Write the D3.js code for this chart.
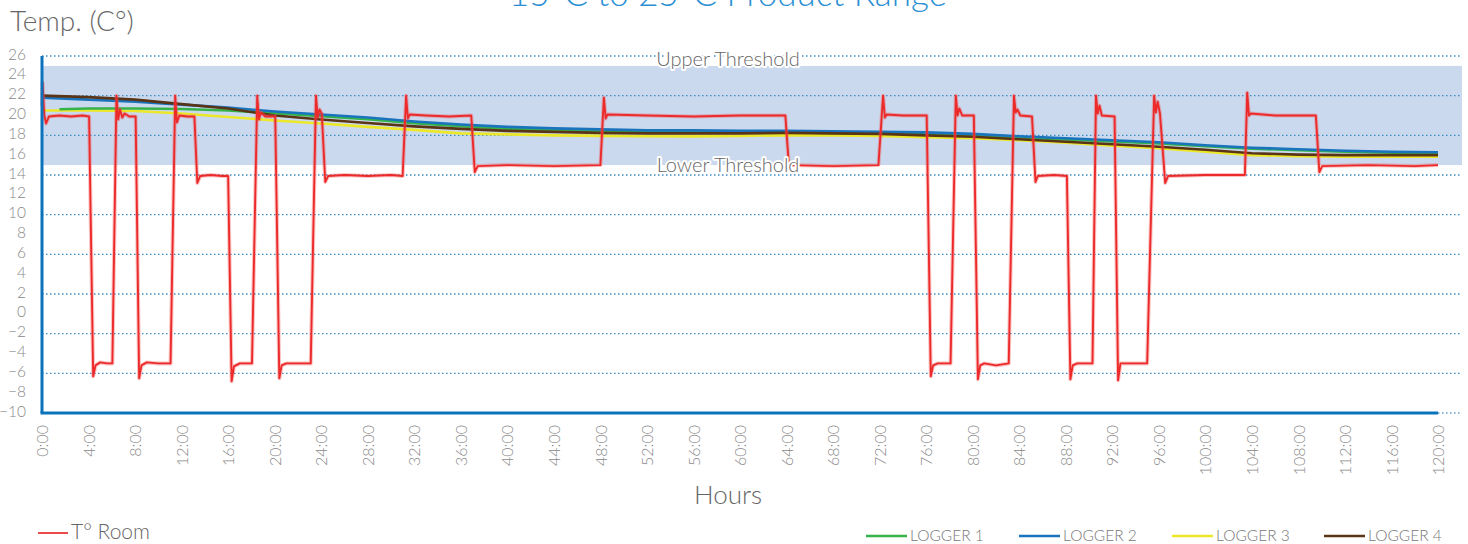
<!DOCTYPE html>
<html>
<head>
<meta charset="utf-8">
<script src="https://cdn.jsdelivr.net/npm/d3@7"></script>
<style>
  html, body { margin: 0; padding: 0; background: #fff; }
  svg { display: block; font-family: "Lato", "Open Sans", sans-serif; font-weight: 300; }
</style>
</head>
<body>
<svg id="chart" width="1468" height="544"></svg>
<script>
// ---------- DATA ----------
const chartTitle = "15°C to 25°C Product Range";
const yTitle = "Temp. (C°)";
const xTitle = "Hours";
const yTickValues = [-10, -8, -6, -4, -2, 0, 2, 4, 6, 8, 10, 12, 14, 16, 18, 20, 22, 24, 26];
const gridValues = [26, 22, 18, 14, 10, 6, 2, -2, -6];
const xTickHours = [0, 4, 8, 12, 16, 20, 24, 28, 32, 36, 40, 44, 48, 52, 56, 60, 64, 68, 72, 76, 80, 84, 88, 92, 96, 100, 104, 108, 112, 116, 120];
const upperThreshold = 25;
const lowerThreshold = 15;

// Logger readings every 4 hours
const loggerHours = [0, 4, 8, 12, 16, 20, 24, 28, 32, 36, 40, 44, 48, 52, 56, 60, 64, 68, 72, 76, 80, 84, 88, 92, 96, 100, 104, 108, 112, 116, 120];
const logger1 = [20.6, 20.7, 20.7, 20.65, 20.5, 20.22, 19.92, 19.62, 19.22, 18.92, 18.68, 18.53, 18.43, 18.35, 18.33, 18.3, 18.28, 18.25, 18.22, 18.15, 18.02, 17.78, 17.58, 17.38, 17.18, 16.9, 16.65, 16.5, 16.36, 16.26, 16.2];
const logger2 = [21.8, 21.6, 21.4, 21.1, 20.8, 20.4, 20.1, 19.8, 19.4, 19.1, 18.85, 18.7, 18.6, 18.5, 18.5, 18.45, 18.45, 18.4, 18.35, 18.3, 18.15, 17.9, 17.7, 17.5, 17.3, 17.0, 16.75, 16.6, 16.45, 16.35, 16.3];
const logger3 = [20.5, 20.5, 20.45, 20.2, 19.85, 19.5, 19.2, 18.85, 18.55, 18.2, 18.1, 18.0, 17.95, 17.9, 17.9, 17.95, 18.0, 18.0, 17.95, 17.8, 17.7, 17.5, 17.25, 16.95, 16.7, 16.35, 16.0, 15.9, 15.85, 15.85, 15.85];
const logger4 = [22.0, 21.85, 21.6, 21.15, 20.7, 20.0, 19.6, 19.25, 18.9, 18.65, 18.45, 18.35, 18.25, 18.2, 18.2, 18.2, 18.25, 18.2, 18.15, 18.0, 17.85, 17.6, 17.35, 17.1, 16.85, 16.55, 16.2, 16.05, 16.0, 16.0, 16.0];
const logger1StartHour = 1.5;

// Room temperature trace
const roomHours = [0, 0.05, 0.2, 0.35, 0.6, 1.5, 2.5, 3.5, 4.05,
  4.4, 4.6, 5.0, 5.6, 6.05,
  6.4, 6.55, 6.7, 6.9, 7.1, 7.5, 8.05,
  8.35, 8.55, 9.0, 10.0, 11.05,
  11.45, 11.6, 11.8, 12.5, 13.1,
  13.35, 13.6, 14.5, 15.5, 16.0,
  16.3, 16.5, 17.0, 18.05,
  18.5, 18.65, 18.8, 19.2, 20.05,
  20.4, 20.6, 21.0, 22.0, 23.1,
  23.55, 23.7, 23.85, 24.05,
  24.35, 24.6, 26.0, 28.0, 30.0, 31.0,
  31.3, 31.45, 31.6, 33.0, 35.0, 36.9,
  37.2, 37.45, 40.0, 44.0, 48.0,
  48.3, 48.45, 48.6, 52.0, 56.0, 60.0, 63.9,
  64.2, 68.0, 71.9,
  72.3, 72.45, 72.6, 74.0, 76.05,
  76.4, 76.6, 77.0, 78.1,
  78.55, 78.7, 78.85, 79.1, 80.1,
  80.45, 80.65, 81.0, 82.0, 83.1,
  83.55, 83.7, 83.85, 84.1, 85.1,
  85.4, 85.6, 87.0, 88.1,
  88.4, 88.6, 89.0, 90.3,
  90.6, 90.75, 90.9, 91.1, 92.2,
  92.5, 92.7, 93.5, 95.0,
  95.6, 95.75, 95.9, 96.1,
  96.55, 96.8, 100.0, 103.4,
  103.6, 103.75, 103.9, 106.0, 109.5,
  109.8, 110.05, 114.0, 118.0, 120.0];
const roomTemps = [21.0, 23.3, 20.0, 19.2, 19.9, 20.0, 19.9, 20.0, 19.9,
  -6.3, -5.2, -4.9, -5.0, -5.0,
  22.0, 19.6, 20.6, 19.8, 20.2, 19.9, 19.9,
  -6.5, -5.2, -4.9, -5.0, -5.0,
  22.0, 19.3, 20.0, 19.9, 19.9,
  13.2, 13.9, 14.0, 13.9, 13.9,
  -6.8, -5.3, -5.0, -5.0,
  22.0, 19.6, 20.3, 19.9, 19.9,
  -6.5, -5.2, -5.0, -5.0, -5.0,
  22.0, 19.8, 20.6, 20.2,
  13.3, 13.9, 14.0, 13.9, 14.0, 13.9,
  22.0, 19.7, 20.1, 20.0, 19.9, 20.0,
  14.3, 14.9, 15.0, 14.9, 15.0,
  21.8, 19.7, 20.1, 20.0, 19.9, 20.0, 20.0,
  15.0, 14.9, 15.0,
  22.0, 19.8, 20.1, 20.0, 20.0,
  -6.3, -5.2, -5.0, -5.0,
  22.0, 20.0, 20.7, 20.0, 20.0,
  -6.6, -5.2, -5.0, -5.2, -5.0,
  22.0, 20.3, 20.6, 20.0, 19.9,
  13.3, 13.9, 14.0, 13.9,
  -6.6, -5.2, -5.0, -5.0,
  22.0, 20.2, 21.0, 20.0, 19.9,
  -6.7, -5.0, -5.0, -5.0,
  22.0, 20.3, 21.4, 20.2,
  13.2, 13.9, 14.0, 14.0,
  22.3, 20.0, 20.2, 20.0, 20.0,
  14.3, 14.9, 15.0, 14.9, 15.0];

// ---------- CHART ----------
const svg = d3.select("#chart");
const x = d3.scaleLinear().domain([0, 120]).range([42, 1438]);
const y = d3.scaleLinear().domain([-10, 26]).range([413, 56]);
const gridRight = 1462;

// Title (cut off at top)
svg.append("text").attr("x", 728).attr("y", 6).attr("text-anchor", "middle")
  .attr("font-size", 35).attr("fill", "#2b8fd3").text(chartTitle);

// Y axis title
svg.append("text").attr("x", 10).attr("y", 31)
  .attr("font-size", 28).attr("fill", "#666").text(yTitle);

// Threshold band
svg.append("rect")
  .attr("x", x(0)).attr("y", y(upperThreshold))
  .attr("width", gridRight - x(0)).attr("height", y(lowerThreshold) - y(upperThreshold))
  .attr("fill", "#cbd9ee");

// Grid lines
svg.append("g").selectAll("line").data(gridValues).join("line")
  .attr("x1", x(0)).attr("x2", gridRight)
  .attr("y1", d => y(d)).attr("y2", d => y(d))
  .attr("stroke", "#3a8cc6").attr("stroke-width", 1.3)
  .attr("stroke-dasharray", "1.5,2.5");
svg.append("line").attr("x1", x(120)).attr("x2", gridRight)
  .attr("y1", y(-10)).attr("y2", y(-10))
  .attr("stroke", "#8ab4d6").attr("stroke-width", 2)
  .attr("stroke-dasharray", "1.5,2.5");

// Y axis labels
const yAxis = d3.axisLeft(y).tickValues(yTickValues).tickSize(0).tickPadding(0);
const gy = svg.append("g").attr("transform", "translate(26,0)").call(yAxis);
gy.select(".domain").remove();
gy.selectAll("text").attr("font-size", 15.5).attr("fill", "#888")
  .attr("font-family", "Lato, sans-serif").attr("dy", "0.2em");

// X axis labels
const xAxis = d3.axisBottom(x).tickValues(xTickHours).tickSize(0)
  .tickFormat(d => d + ":00");
const gx = svg.append("g").attr("transform", "translate(0,425)").call(xAxis);
gx.select(".domain").remove();
gx.selectAll("text")
  .attr("font-size", 16).attr("fill", "#888").attr("font-family", "Lato, sans-serif")
  .attr("text-anchor", "end")
  .attr("transform", "rotate(-90)")
  .attr("x", 0).attr("y", 0).attr("dx", 0).attr("dy", "0.35em");

// X axis title
svg.append("text").attr("x", 728).attr("y", 504).attr("text-anchor", "middle")
  .attr("font-size", 26).attr("fill", "#666").text(xTitle);

// Logger lines
const lineGen = d3.line().x(d => x(d[0])).y(d => y(d[1])).curve(d3.curveLinear);
const loggers = [
  { vals: logger1, color: "#35b34a", start: logger1StartHour },
  { vals: logger2, color: "#1a74bd", start: 0 },
  { vals: logger3, color: "#ece829", start: 0 },
  { vals: logger4, color: "#5a3416", start: 0 }
];
const drawOrder = [2, 0, 1, 3];
drawOrder.forEach(i => {
  const L = loggers[i];
  let pts = loggerHours.map((h, k) => [h, L.vals[k]]);
  if (L.start > 0) {
    const v0 = d3.scaleLinear().domain([loggerHours[0], loggerHours[1]]).range([L.vals[0], L.vals[1]])(L.start);
    pts = [[L.start, v0]].concat(pts.filter(p => p[0] > L.start));
  }
  svg.append("path").datum(pts).attr("d", lineGen)
    .attr("fill", "none").attr("stroke", L.color).attr("stroke-width", 2.6)
    .attr("stroke-linejoin", "round");
});

// Room line
const roomPts = roomHours.map((h, k) => [h, roomTemps[k]]);
svg.append("path").datum(roomPts).attr("d", lineGen)
  .attr("fill", "none").attr("stroke", "#f05050").attr("stroke-opacity", 0.35)
  .attr("stroke-width", 4).attr("stroke-linejoin", "round");
svg.append("path").datum(roomPts).attr("d", lineGen)
  .attr("fill", "none").attr("stroke", "#ec2a2a")
  .attr("stroke-width", 1.9).attr("stroke-linejoin", "round");

// Threshold labels
svg.append("text").attr("x", 728).attr("y", y(upperThreshold) + 0.5).attr("text-anchor", "middle")
  .attr("font-size", 20).attr("fill", "#666")
  .attr("stroke", "#fff").attr("stroke-width", 4).attr("paint-order", "stroke")
  .attr("stroke-linejoin", "round").text("Upper Threshold");
svg.append("text").attr("x", 728).attr("y", y(lowerThreshold) + 7).attr("text-anchor", "middle")
  .attr("font-size", 20).attr("fill", "#666")
  .attr("stroke", "#fff").attr("stroke-width", 4).attr("paint-order", "stroke")
  .attr("stroke-linejoin", "round").text("Lower Threshold");

// Axes lines
svg.append("line").attr("x1", x(0)).attr("x2", x(0)).attr("y1", y(26)).attr("y2", y(-10))
  .attr("stroke", "#0b72bc").attr("stroke-width", 3);
svg.append("line").attr("x1", x(0) - 1.5).attr("x2", x(120)).attr("y1", y(-10)).attr("y2", y(-10))
  .attr("stroke", "#0b72bc").attr("stroke-width", 3);

// Legends
const leg1 = svg.append("g");
leg1.append("line").attr("x1", 38).attr("x2", 68).attr("y1", 533).attr("y2", 533)
  .attr("stroke", "#ec4a4a").attr("stroke-width", 2);
leg1.append("text").attr("x", 71).attr("y", 539).attr("font-size", 21).attr("fill", "#666").text("T° Room");

const legendItems = [
  { name: "LOGGER 1", color: "#35b34a", x: 866 },
  { name: "LOGGER 2", color: "#1a74bd", x: 1019 },
  { name: "LOGGER 3", color: "#ece829", x: 1172 },
  { name: "LOGGER 4", color: "#5a3416", x: 1324 }
];
const leg2 = svg.append("g").selectAll("g").data(legendItems).join("g");
leg2.append("line").attr("x1", d => d.x).attr("x2", d => d.x + 41)
  .attr("y1", 536).attr("y2", 536).attr("stroke", d => d.color).attr("stroke-width", 2.5);
leg2.append("text").attr("x", d => d.x + 44).attr("y", 541)
  .attr("font-size", 15.5).attr("fill", "#777").text(d => d.name);
</script>
</body>
</html>
